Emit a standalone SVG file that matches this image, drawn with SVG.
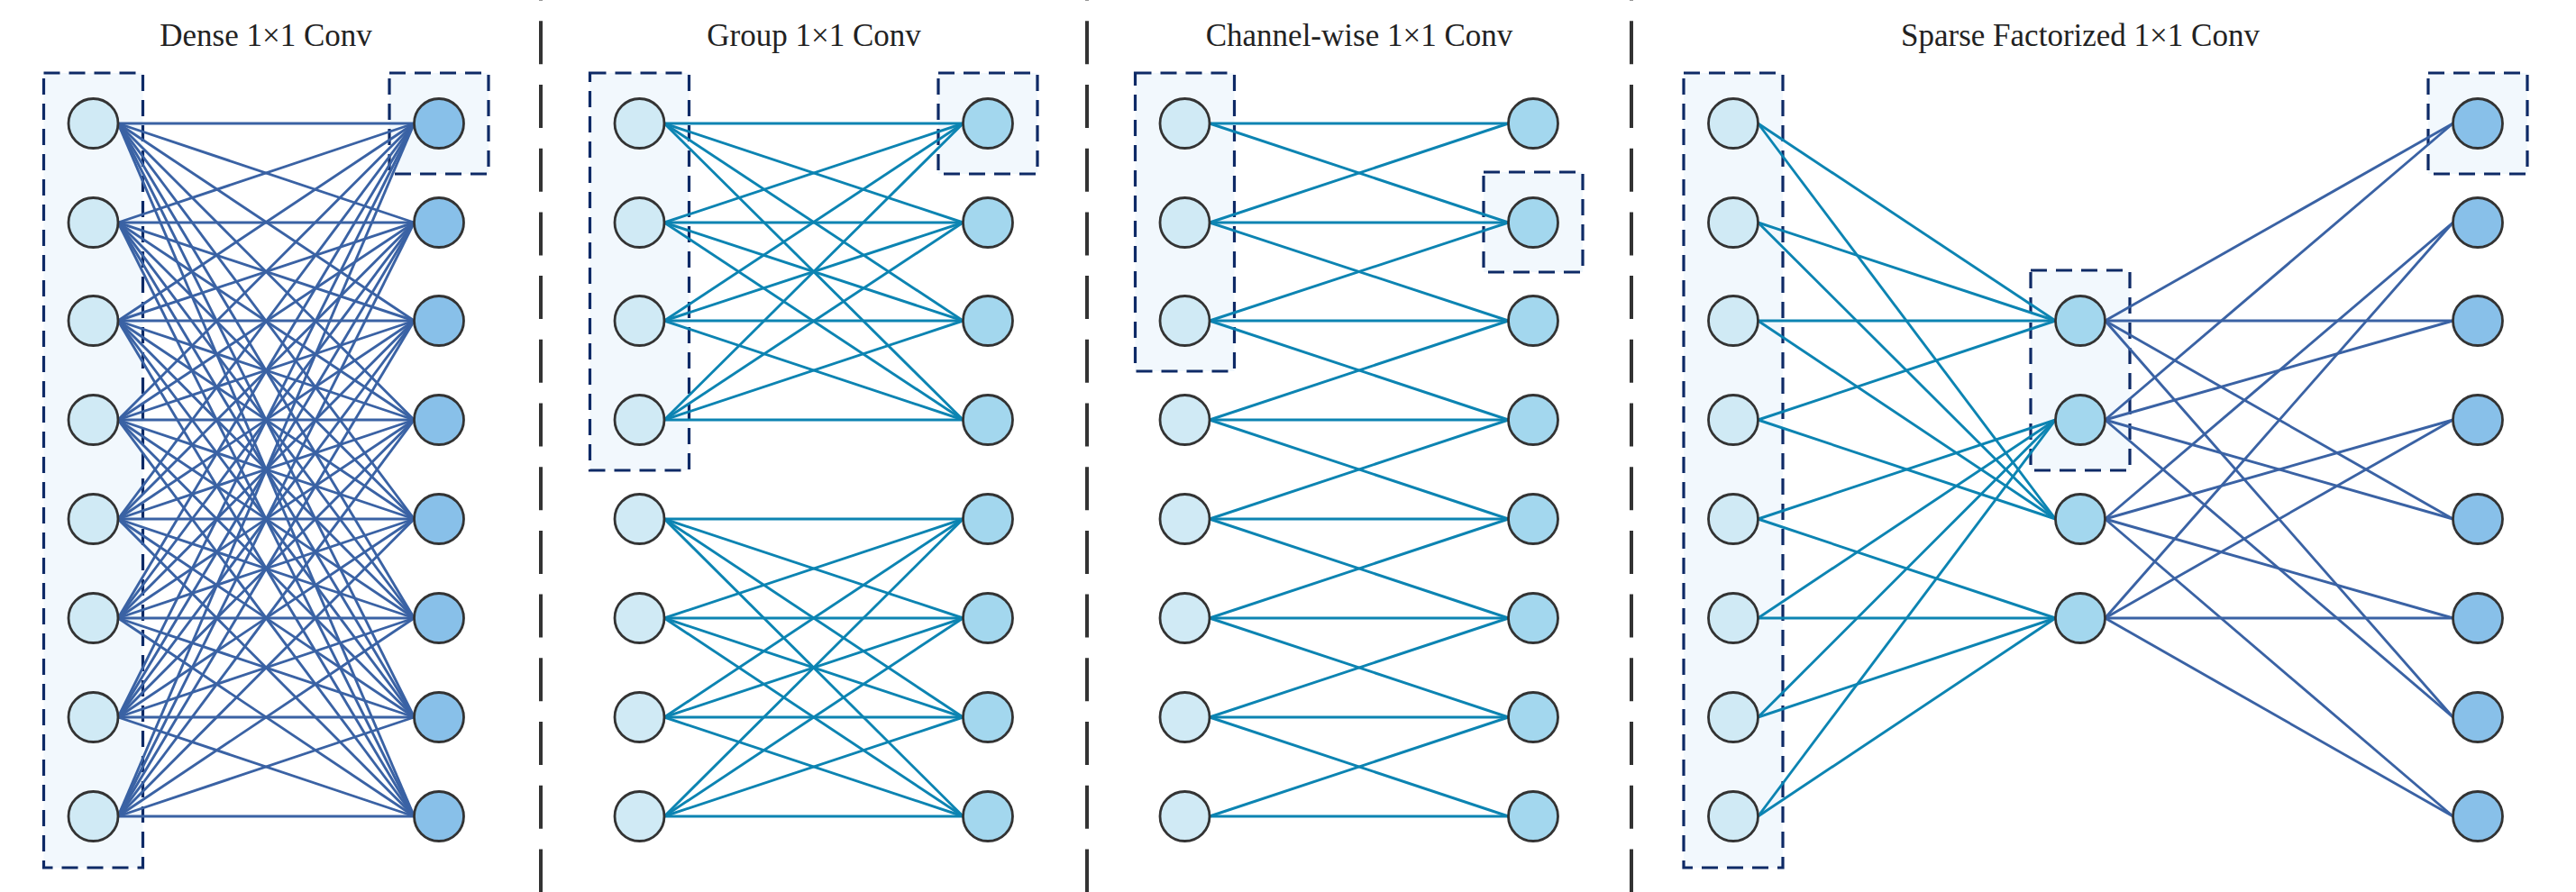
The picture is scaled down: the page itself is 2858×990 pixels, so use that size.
<svg xmlns="http://www.w3.org/2000/svg" width="2858" height="990" viewBox="0 0 2858 990">
<style>
.title{font-family:"Liberation Serif","Times New Roman",serif;font-size:35px;fill:#222;text-anchor:middle}
.sep{stroke:#333;stroke-width:4;stroke-dasharray:48 22.7;fill:none}
.box{fill:#f2f8fd;stroke:#0e2a66;stroke-width:3.2;stroke-dasharray:18 10}
.n{stroke:#333;stroke-width:2.8}
.in{fill:#d0eaf5}
.mid{fill:#a3d7ee}
.out{fill:#88c0e9}
.cb line{stroke:#3a62a4;stroke-width:2.9}
.ct line{stroke:#0c84b2;stroke-width:2.9}
</style>
<rect width="2858" height="990" fill="#fff"/>
<g id="separators">
<line class="sep" x1="600" y1="-47.4" x2="600" y2="990"/>
<line class="sep" x1="1206" y1="-47.4" x2="1206" y2="990"/>
<line class="sep" x1="1810" y1="-47.4" x2="1810" y2="990"/>
</g>
<g id="titles">
<text class="title" x="295" y="50.5">Dense 1×1 Conv</text>
<text class="title" x="903" y="50.5">Group 1×1 Conv</text>
<text class="title" x="1508" y="50.5">Channel-wise 1×1 Conv</text>
<text class="title" x="2308" y="50.5">Sparse Factorized 1×1 Conv</text>
</g>
<g id="boxes">
<rect class="box" x="48.5" y="81" width="110" height="882"/>
<rect class="box" x="432" y="81" width="110" height="112"/>
<rect class="box" x="654.5" y="81" width="110" height="441"/>
<rect class="box" x="1041" y="81" width="110" height="112"/>
<rect class="box" x="1259.5" y="81" width="110" height="331"/>
<rect class="box" x="1646" y="191" width="110" height="111"/>
<rect class="box" x="1868" y="81" width="110" height="882"/>
<rect class="box" x="2253" y="300" width="110" height="222"/>
<rect class="box" x="2694" y="81" width="110" height="112"/>
</g>
<g id="connectors">
<g id="dense-edges" class="cb">
<line x1="131" y1="137" x2="459.5" y2="137"/><line x1="131" y1="137" x2="459.5" y2="247"/><line x1="131" y1="137" x2="459.5" y2="356"/><line x1="131" y1="137" x2="459.5" y2="466"/><line x1="131" y1="137" x2="459.5" y2="576"/><line x1="131" y1="137" x2="459.5" y2="686"/><line x1="131" y1="137" x2="459.5" y2="796"/><line x1="131" y1="137" x2="459.5" y2="906"/>
<line x1="131" y1="247" x2="459.5" y2="137"/><line x1="131" y1="247" x2="459.5" y2="247"/><line x1="131" y1="247" x2="459.5" y2="356"/><line x1="131" y1="247" x2="459.5" y2="466"/><line x1="131" y1="247" x2="459.5" y2="576"/><line x1="131" y1="247" x2="459.5" y2="686"/><line x1="131" y1="247" x2="459.5" y2="796"/><line x1="131" y1="247" x2="459.5" y2="906"/>
<line x1="131" y1="356" x2="459.5" y2="137"/><line x1="131" y1="356" x2="459.5" y2="247"/><line x1="131" y1="356" x2="459.5" y2="356"/><line x1="131" y1="356" x2="459.5" y2="466"/><line x1="131" y1="356" x2="459.5" y2="576"/><line x1="131" y1="356" x2="459.5" y2="686"/><line x1="131" y1="356" x2="459.5" y2="796"/><line x1="131" y1="356" x2="459.5" y2="906"/>
<line x1="131" y1="466" x2="459.5" y2="137"/><line x1="131" y1="466" x2="459.5" y2="247"/><line x1="131" y1="466" x2="459.5" y2="356"/><line x1="131" y1="466" x2="459.5" y2="466"/><line x1="131" y1="466" x2="459.5" y2="576"/><line x1="131" y1="466" x2="459.5" y2="686"/><line x1="131" y1="466" x2="459.5" y2="796"/><line x1="131" y1="466" x2="459.5" y2="906"/>
<line x1="131" y1="576" x2="459.5" y2="137"/><line x1="131" y1="576" x2="459.5" y2="247"/><line x1="131" y1="576" x2="459.5" y2="356"/><line x1="131" y1="576" x2="459.5" y2="466"/><line x1="131" y1="576" x2="459.5" y2="576"/><line x1="131" y1="576" x2="459.5" y2="686"/><line x1="131" y1="576" x2="459.5" y2="796"/><line x1="131" y1="576" x2="459.5" y2="906"/>
<line x1="131" y1="686" x2="459.5" y2="137"/><line x1="131" y1="686" x2="459.5" y2="247"/><line x1="131" y1="686" x2="459.5" y2="356"/><line x1="131" y1="686" x2="459.5" y2="466"/><line x1="131" y1="686" x2="459.5" y2="576"/><line x1="131" y1="686" x2="459.5" y2="686"/><line x1="131" y1="686" x2="459.5" y2="796"/><line x1="131" y1="686" x2="459.5" y2="906"/>
<line x1="131" y1="796" x2="459.5" y2="137"/><line x1="131" y1="796" x2="459.5" y2="247"/><line x1="131" y1="796" x2="459.5" y2="356"/><line x1="131" y1="796" x2="459.5" y2="466"/><line x1="131" y1="796" x2="459.5" y2="576"/><line x1="131" y1="796" x2="459.5" y2="686"/><line x1="131" y1="796" x2="459.5" y2="796"/><line x1="131" y1="796" x2="459.5" y2="906"/>
<line x1="131" y1="906" x2="459.5" y2="137"/><line x1="131" y1="906" x2="459.5" y2="247"/><line x1="131" y1="906" x2="459.5" y2="356"/><line x1="131" y1="906" x2="459.5" y2="466"/><line x1="131" y1="906" x2="459.5" y2="576"/><line x1="131" y1="906" x2="459.5" y2="686"/><line x1="131" y1="906" x2="459.5" y2="796"/><line x1="131" y1="906" x2="459.5" y2="906"/>
</g>
<g id="group-edges" class="ct">
<line x1="737" y1="137" x2="1068.5" y2="137"/><line x1="737" y1="137" x2="1068.5" y2="247"/><line x1="737" y1="137" x2="1068.5" y2="356"/><line x1="737" y1="137" x2="1068.5" y2="466"/>
<line x1="737" y1="247" x2="1068.5" y2="137"/><line x1="737" y1="247" x2="1068.5" y2="247"/><line x1="737" y1="247" x2="1068.5" y2="356"/><line x1="737" y1="247" x2="1068.5" y2="466"/>
<line x1="737" y1="356" x2="1068.5" y2="137"/><line x1="737" y1="356" x2="1068.5" y2="247"/><line x1="737" y1="356" x2="1068.5" y2="356"/><line x1="737" y1="356" x2="1068.5" y2="466"/>
<line x1="737" y1="466" x2="1068.5" y2="137"/><line x1="737" y1="466" x2="1068.5" y2="247"/><line x1="737" y1="466" x2="1068.5" y2="356"/><line x1="737" y1="466" x2="1068.5" y2="466"/>
<line x1="737" y1="576" x2="1068.5" y2="576"/><line x1="737" y1="576" x2="1068.5" y2="686"/><line x1="737" y1="576" x2="1068.5" y2="796"/><line x1="737" y1="576" x2="1068.5" y2="906"/>
<line x1="737" y1="686" x2="1068.5" y2="576"/><line x1="737" y1="686" x2="1068.5" y2="686"/><line x1="737" y1="686" x2="1068.5" y2="796"/><line x1="737" y1="686" x2="1068.5" y2="906"/>
<line x1="737" y1="796" x2="1068.5" y2="576"/><line x1="737" y1="796" x2="1068.5" y2="686"/><line x1="737" y1="796" x2="1068.5" y2="796"/><line x1="737" y1="796" x2="1068.5" y2="906"/>
<line x1="737" y1="906" x2="1068.5" y2="576"/><line x1="737" y1="906" x2="1068.5" y2="686"/><line x1="737" y1="906" x2="1068.5" y2="796"/><line x1="737" y1="906" x2="1068.5" y2="906"/>
</g>
<g id="channel-edges" class="ct">
<line x1="1342" y1="137" x2="1673.5" y2="137"/><line x1="1342" y1="137" x2="1673.5" y2="247"/>
<line x1="1342" y1="247" x2="1673.5" y2="137"/><line x1="1342" y1="247" x2="1673.5" y2="247"/><line x1="1342" y1="247" x2="1673.5" y2="356"/>
<line x1="1342" y1="356" x2="1673.5" y2="247"/><line x1="1342" y1="356" x2="1673.5" y2="356"/><line x1="1342" y1="356" x2="1673.5" y2="466"/>
<line x1="1342" y1="466" x2="1673.5" y2="356"/><line x1="1342" y1="466" x2="1673.5" y2="466"/><line x1="1342" y1="466" x2="1673.5" y2="576"/>
<line x1="1342" y1="576" x2="1673.5" y2="466"/><line x1="1342" y1="576" x2="1673.5" y2="576"/><line x1="1342" y1="576" x2="1673.5" y2="686"/>
<line x1="1342" y1="686" x2="1673.5" y2="576"/><line x1="1342" y1="686" x2="1673.5" y2="686"/><line x1="1342" y1="686" x2="1673.5" y2="796"/>
<line x1="1342" y1="796" x2="1673.5" y2="686"/><line x1="1342" y1="796" x2="1673.5" y2="796"/><line x1="1342" y1="796" x2="1673.5" y2="906"/>
<line x1="1342" y1="906" x2="1673.5" y2="796"/><line x1="1342" y1="906" x2="1673.5" y2="906"/>
</g>
<g id="sparse-edges-1" class="ct">
<line x1="1950.5" y1="137" x2="2280.5" y2="356"/><line x1="1950.5" y1="137" x2="2280.5" y2="576"/>
<line x1="1950.5" y1="247" x2="2280.5" y2="356"/><line x1="1950.5" y1="247" x2="2280.5" y2="576"/>
<line x1="1950.5" y1="356" x2="2280.5" y2="356"/><line x1="1950.5" y1="356" x2="2280.5" y2="576"/>
<line x1="1950.5" y1="466" x2="2280.5" y2="356"/><line x1="1950.5" y1="466" x2="2280.5" y2="576"/>
<line x1="1950.5" y1="576" x2="2280.5" y2="466"/><line x1="1950.5" y1="576" x2="2280.5" y2="686"/>
<line x1="1950.5" y1="686" x2="2280.5" y2="466"/><line x1="1950.5" y1="686" x2="2280.5" y2="686"/>
<line x1="1950.5" y1="796" x2="2280.5" y2="466"/><line x1="1950.5" y1="796" x2="2280.5" y2="686"/>
<line x1="1950.5" y1="906" x2="2280.5" y2="466"/><line x1="1950.5" y1="906" x2="2280.5" y2="686"/>
</g>
<g id="sparse-edges-2" class="cb">
<line x1="2335.5" y1="356" x2="2721.5" y2="137"/><line x1="2335.5" y1="356" x2="2721.5" y2="356"/><line x1="2335.5" y1="356" x2="2721.5" y2="576"/><line x1="2335.5" y1="356" x2="2721.5" y2="796"/>
<line x1="2335.5" y1="466" x2="2721.5" y2="137"/><line x1="2335.5" y1="466" x2="2721.5" y2="356"/><line x1="2335.5" y1="466" x2="2721.5" y2="576"/><line x1="2335.5" y1="466" x2="2721.5" y2="796"/>
<line x1="2335.5" y1="576" x2="2721.5" y2="247"/><line x1="2335.5" y1="576" x2="2721.5" y2="466"/><line x1="2335.5" y1="576" x2="2721.5" y2="686"/><line x1="2335.5" y1="576" x2="2721.5" y2="906"/>
<line x1="2335.5" y1="686" x2="2721.5" y2="247"/><line x1="2335.5" y1="686" x2="2721.5" y2="466"/><line x1="2335.5" y1="686" x2="2721.5" y2="686"/><line x1="2335.5" y1="686" x2="2721.5" y2="906"/>
</g>
</g>
<g id="nodes">
<g id="dense-in-0"><circle class="n in" cx="103.5" cy="137" r="27.5"/></g>
<g id="dense-in-1"><circle class="n in" cx="103.5" cy="247" r="27.5"/></g>
<g id="dense-in-2"><circle class="n in" cx="103.5" cy="356" r="27.5"/></g>
<g id="dense-in-3"><circle class="n in" cx="103.5" cy="466" r="27.5"/></g>
<g id="dense-in-4"><circle class="n in" cx="103.5" cy="576" r="27.5"/></g>
<g id="dense-in-5"><circle class="n in" cx="103.5" cy="686" r="27.5"/></g>
<g id="dense-in-6"><circle class="n in" cx="103.5" cy="796" r="27.5"/></g>
<g id="dense-in-7"><circle class="n in" cx="103.5" cy="906" r="27.5"/></g>
<g id="dense-out-0"><circle class="n out" cx="487" cy="137" r="27.5"/></g>
<g id="dense-out-1"><circle class="n out" cx="487" cy="247" r="27.5"/></g>
<g id="dense-out-2"><circle class="n out" cx="487" cy="356" r="27.5"/></g>
<g id="dense-out-3"><circle class="n out" cx="487" cy="466" r="27.5"/></g>
<g id="dense-out-4"><circle class="n out" cx="487" cy="576" r="27.5"/></g>
<g id="dense-out-5"><circle class="n out" cx="487" cy="686" r="27.5"/></g>
<g id="dense-out-6"><circle class="n out" cx="487" cy="796" r="27.5"/></g>
<g id="dense-out-7"><circle class="n out" cx="487" cy="906" r="27.5"/></g>
<g id="group-in-0"><circle class="n in" cx="709.5" cy="137" r="27.5"/></g>
<g id="group-in-1"><circle class="n in" cx="709.5" cy="247" r="27.5"/></g>
<g id="group-in-2"><circle class="n in" cx="709.5" cy="356" r="27.5"/></g>
<g id="group-in-3"><circle class="n in" cx="709.5" cy="466" r="27.5"/></g>
<g id="group-in-4"><circle class="n in" cx="709.5" cy="576" r="27.5"/></g>
<g id="group-in-5"><circle class="n in" cx="709.5" cy="686" r="27.5"/></g>
<g id="group-in-6"><circle class="n in" cx="709.5" cy="796" r="27.5"/></g>
<g id="group-in-7"><circle class="n in" cx="709.5" cy="906" r="27.5"/></g>
<g id="group-out-0"><circle class="n mid" cx="1096" cy="137" r="27.5"/></g>
<g id="group-out-1"><circle class="n mid" cx="1096" cy="247" r="27.5"/></g>
<g id="group-out-2"><circle class="n mid" cx="1096" cy="356" r="27.5"/></g>
<g id="group-out-3"><circle class="n mid" cx="1096" cy="466" r="27.5"/></g>
<g id="group-out-4"><circle class="n mid" cx="1096" cy="576" r="27.5"/></g>
<g id="group-out-5"><circle class="n mid" cx="1096" cy="686" r="27.5"/></g>
<g id="group-out-6"><circle class="n mid" cx="1096" cy="796" r="27.5"/></g>
<g id="group-out-7"><circle class="n mid" cx="1096" cy="906" r="27.5"/></g>
<g id="chan-in-0"><circle class="n in" cx="1314.5" cy="137" r="27.5"/></g>
<g id="chan-in-1"><circle class="n in" cx="1314.5" cy="247" r="27.5"/></g>
<g id="chan-in-2"><circle class="n in" cx="1314.5" cy="356" r="27.5"/></g>
<g id="chan-in-3"><circle class="n in" cx="1314.5" cy="466" r="27.5"/></g>
<g id="chan-in-4"><circle class="n in" cx="1314.5" cy="576" r="27.5"/></g>
<g id="chan-in-5"><circle class="n in" cx="1314.5" cy="686" r="27.5"/></g>
<g id="chan-in-6"><circle class="n in" cx="1314.5" cy="796" r="27.5"/></g>
<g id="chan-in-7"><circle class="n in" cx="1314.5" cy="906" r="27.5"/></g>
<g id="chan-out-0"><circle class="n mid" cx="1701" cy="137" r="27.5"/></g>
<g id="chan-out-1"><circle class="n mid" cx="1701" cy="247" r="27.5"/></g>
<g id="chan-out-2"><circle class="n mid" cx="1701" cy="356" r="27.5"/></g>
<g id="chan-out-3"><circle class="n mid" cx="1701" cy="466" r="27.5"/></g>
<g id="chan-out-4"><circle class="n mid" cx="1701" cy="576" r="27.5"/></g>
<g id="chan-out-5"><circle class="n mid" cx="1701" cy="686" r="27.5"/></g>
<g id="chan-out-6"><circle class="n mid" cx="1701" cy="796" r="27.5"/></g>
<g id="chan-out-7"><circle class="n mid" cx="1701" cy="906" r="27.5"/></g>
<g id="sparse-in-0"><circle class="n in" cx="1923" cy="137" r="27.5"/></g>
<g id="sparse-in-1"><circle class="n in" cx="1923" cy="247" r="27.5"/></g>
<g id="sparse-in-2"><circle class="n in" cx="1923" cy="356" r="27.5"/></g>
<g id="sparse-in-3"><circle class="n in" cx="1923" cy="466" r="27.5"/></g>
<g id="sparse-in-4"><circle class="n in" cx="1923" cy="576" r="27.5"/></g>
<g id="sparse-in-5"><circle class="n in" cx="1923" cy="686" r="27.5"/></g>
<g id="sparse-in-6"><circle class="n in" cx="1923" cy="796" r="27.5"/></g>
<g id="sparse-in-7"><circle class="n in" cx="1923" cy="906" r="27.5"/></g>
<g id="sparse-mid-0"><circle class="n mid" cx="2308" cy="356" r="27.5"/></g>
<g id="sparse-mid-1"><circle class="n mid" cx="2308" cy="466" r="27.5"/></g>
<g id="sparse-mid-2"><circle class="n mid" cx="2308" cy="576" r="27.5"/></g>
<g id="sparse-mid-3"><circle class="n mid" cx="2308" cy="686" r="27.5"/></g>
<g id="sparse-out-0"><circle class="n out" cx="2749" cy="137" r="27.5"/></g>
<g id="sparse-out-1"><circle class="n out" cx="2749" cy="247" r="27.5"/></g>
<g id="sparse-out-2"><circle class="n out" cx="2749" cy="356" r="27.5"/></g>
<g id="sparse-out-3"><circle class="n out" cx="2749" cy="466" r="27.5"/></g>
<g id="sparse-out-4"><circle class="n out" cx="2749" cy="576" r="27.5"/></g>
<g id="sparse-out-5"><circle class="n out" cx="2749" cy="686" r="27.5"/></g>
<g id="sparse-out-6"><circle class="n out" cx="2749" cy="796" r="27.5"/></g>
<g id="sparse-out-7"><circle class="n out" cx="2749" cy="906" r="27.5"/></g>
</g>
</svg>
